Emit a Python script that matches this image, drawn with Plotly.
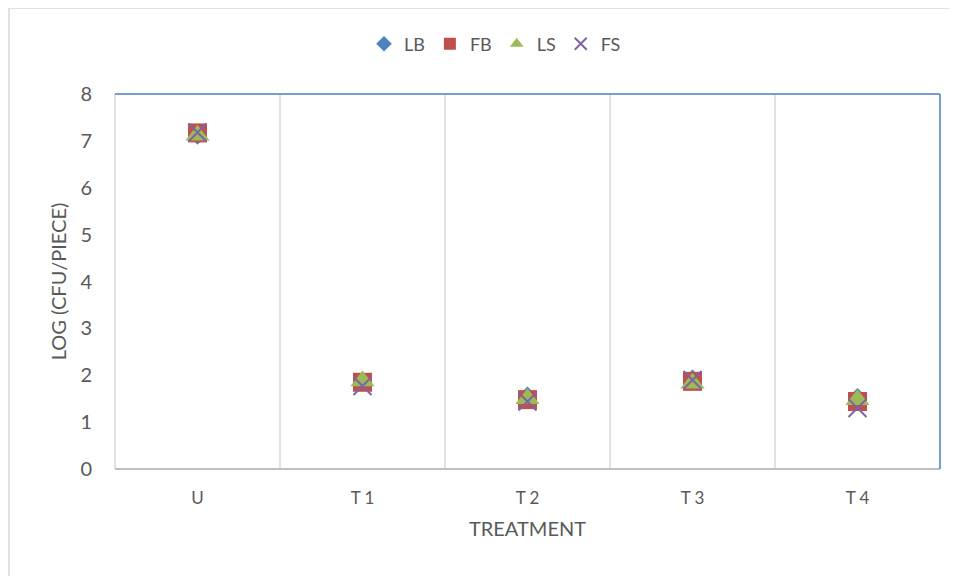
import plotly.graph_objects as go

categories = ["U", "T 1", "T 2", "T 3", "T 4"]
lb = [7.10, 1.85, 1.58, 1.94, 1.55]
fb = [7.17, 1.85, 1.48, 1.87, 1.44]
ls = [7.12, 1.88, 1.50, 1.83, 1.48]
fs = [7.18, 1.77, 1.44, 1.90, 1.30]
y_ticks = [0, 1, 2, 3, 4, 5, 6, 7, 8]

W, H = 957, 576
OFF = 8  # page body offset
L, R, T, B = 115 - OFF, 17 + OFF, 94 - OFF, 107 + OFF
pw, ph = W - L - R, H - T - B

xs = list(range(len(categories)))
fig = go.Figure()
fig.add_trace(go.Scatter(x=xs, y=lb, mode="markers", name="LB",
                         marker=dict(symbol="diamond", size=13, color="#4f81bd")))
fig.add_trace(go.Scatter(x=xs, y=fb, mode="markers", name="FB",
                         marker=dict(symbol="square", size=19, color="#c0504d")))
fig.add_trace(go.Scatter(x=xs, y=ls, mode="markers", name="LS",
                         marker=dict(symbol="triangle-up", size=21, color="#9bbb59")))
fig.add_trace(go.Scatter(x=xs, y=fs, mode="markers", name="FS",
                         marker=dict(symbol="x-thin", size=18, color="#8064a2",
                                     line=dict(color="#8064a2", width=2))))

shapes = []
for b in [0.5, 1.5, 2.5, 3.5]:
    shapes.append(dict(type="line", xref="x", yref="paper", x0=b, x1=b, y0=0, y1=1,
                       line=dict(color="#d9d9d9", width=1.5), layer="below"))
shapes.append(dict(type="line", xref="paper", yref="paper", x0=0, x1=0, y0=0, y1=1,
                   line=dict(color="#d9d9d9", width=1.5)))
shapes.append(dict(type="line", xref="paper", yref="paper", x0=0, x1=1, y0=0, y1=0,
                   line=dict(color="#bfbfbf", width=2)))
shapes.append(dict(type="line", xref="paper", yref="paper", x0=0, x1=1, y0=1, y1=1,
                   line=dict(color="#4a7ebb", width=1.5)))
shapes.append(dict(type="line", xref="paper", yref="paper", x0=1, x1=1, y0=0, y1=1,
                   line=dict(color="#4a7ebb", width=1.5)))
# outer chart border (target pixels: left 9, top 8)
shapes.append(dict(type="rect", xref="paper", yref="paper",
                   x0=(9 - OFF - L) / pw, x1=(W + 5 - L) / pw,
                   y0=-(H + 5 - (T + ph)) / ph, y1=(T + ph - (8 - OFF)) / ph,
                   line=dict(color="#d9d9d9", width=1.5)))

fig.update_layout(
    width=W, height=H,
    margin=dict(l=L, r=R, t=T, b=B, pad=0),
    paper_bgcolor="white", plot_bgcolor="white",
    font=dict(family="Lato, Open Sans, sans-serif", color="#595959"),
    showlegend=True,
    legend=dict(orientation="h", x=(495 - 115) / pw, xanchor="center",
                y=(ph + 50) / ph, yanchor="middle",
                font=dict(size=18, color="#595959"), itemsizing="constant",
                itemwidth=30, tracegroupgap=0, bgcolor="rgba(0,0,0,0)"),
    shapes=shapes,
    xaxis=dict(range=[-0.5, 4.5], tickmode="array", tickvals=xs, ticktext=categories,
               showgrid=False, zeroline=False, showline=False, ticks="outside",
               ticklen=14, tickcolor="rgba(0,0,0,0)",
               tickfont=dict(size=17, color="#595959"),
               title=dict(text="TREATMENT", font=dict(size=20, color="#595959"), standoff=14)),
    yaxis=dict(range=[0, 8], tickmode="array", tickvals=y_ticks,
               showgrid=False, zeroline=False, showline=False, ticks="outside",
               ticklen=18, tickcolor="rgba(0,0,0,0)",
               tickfont=dict(size=20, color="#595959"),
               title=dict(text="LOG (CFU/PIECE)", font=dict(size=20, color="#595959"), standoff=8)),
)

fig.write_html("out.html")
